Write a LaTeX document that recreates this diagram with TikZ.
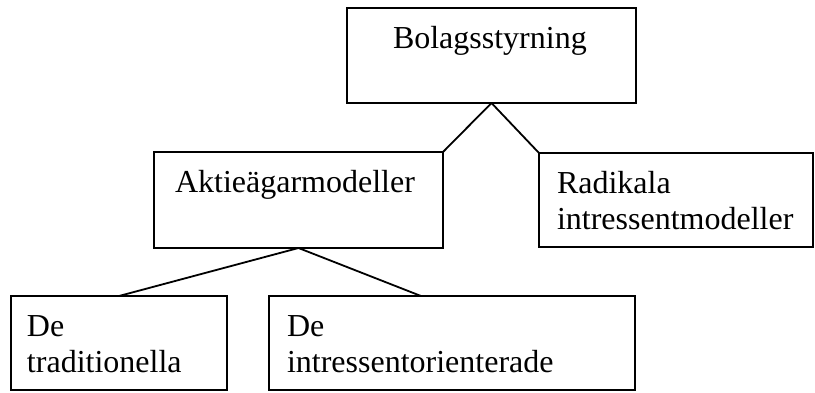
\documentclass[tikz,border=0pt]{standalone}
\usepackage{fontspec}
\setmainfont{Liberation Serif}
\newcommand{\rutatext}[4]{\parbox[b][#2][t]{#1}{\fontsize{32}{36}\selectfont\raggedright\leftskip=#3\rule{0pt}{40pt}#4}}
\begin{document}
\begin{tikzpicture}[x=1pt, y=-1pt,
    ruta/.style={draw, line width=2pt, inner sep=0pt, outer sep=0pt, anchor=north west},
    linje/.style={line width=1.8pt}]
    \useasboundingbox (0,0) rectangle (815,392);
    \node[ruta] (bolag) at (347,8) {\rutatext{289pt}{95pt}{46pt}{Bolagsstyrning}};
    \node[ruta] (aktie) at (154,152) {\rutatext{289pt}{96pt}{21pt}{Aktieägarmodeller}};
    \node[ruta] (radikal) at (539,153) {\rutatext{274pt}{94pt}{18pt}{Radikala\\intressentmodeller}};
    \node[ruta] (trad) at (11,296) {\rutatext{216pt}{94pt}{16pt}{De\\traditionella}};
    \node[ruta] (intr) at (269,296) {\rutatext{366pt}{94pt}{18pt}{De\\intressentorienterade}};
    \draw[linje] (bolag.south) -- (aktie.north east);
    \draw[linje] (bolag.south) -- (radikal.north west);
    \draw[linje] (aktie.south) -- (trad.north);
    \draw[linje] (aktie.south) -- ([xshift=-31pt]intr.north);
\end{tikzpicture}
\end{document}
